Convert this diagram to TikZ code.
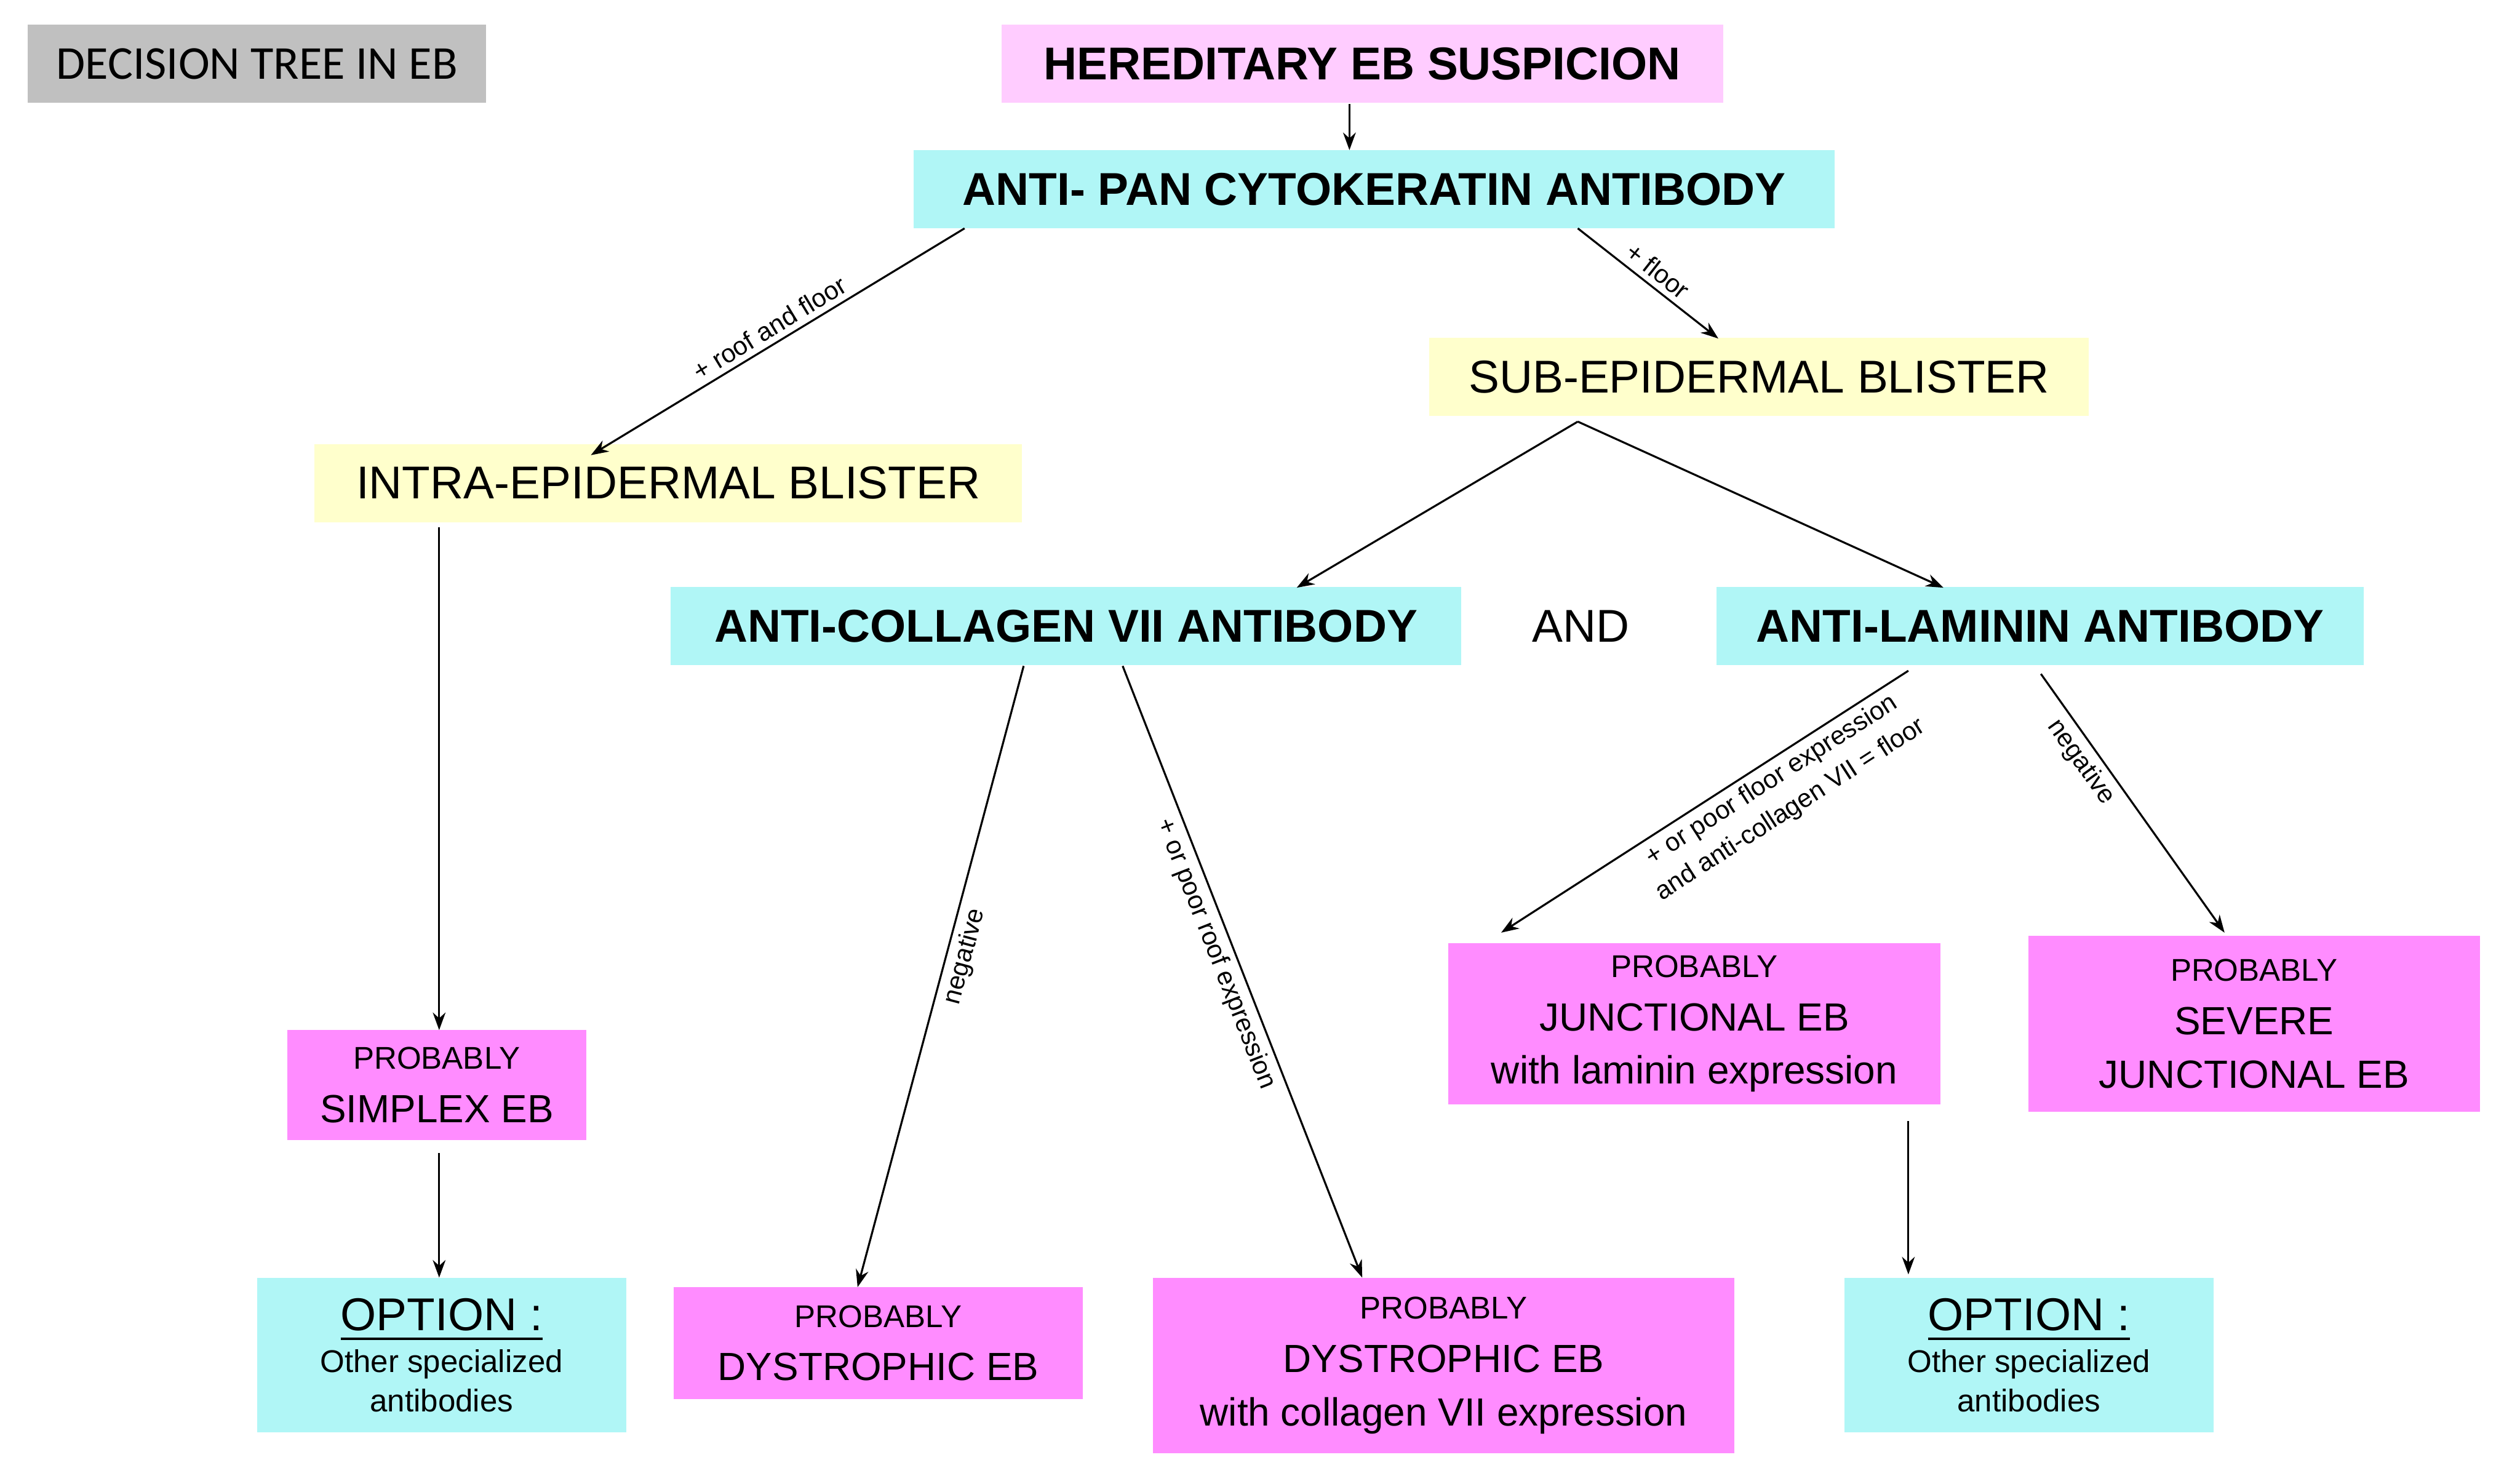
\documentclass[tikz,border=0pt]{standalone}
\usepackage{fontspec}
\setmainfont{Liberation Sans}
\newfontfamily\calib{Carlito}
\usetikzlibrary{arrows.meta}
\definecolor{pinklt}{HTML}{FFCCFF}
\definecolor{cyanlt}{HTML}{B0F6F6}
\definecolor{yellowlt}{HTML}{FFFFCC}
\definecolor{magent}{HTML}{FF8CFF}
\definecolor{greybx}{HTML}{C0C0C0}
\begin{document}
\begin{tikzpicture}
[
 >={Stealth[length=1.1mm,width=0.8mm]},
 align=center,
 inner sep=0pt,
 box/.style={rectangle,minimum width=#1},
 head/.style={box=#1,fill=cyanlt,minimum height=0.49cm,font=\fontsize{8.2}{9}\selectfont\bfseries},
 blister/.style={box=#1,fill=yellowlt,minimum height=0.49cm,font=\fontsize{8.2}{9}\selectfont},
 result/.style={box=#1,fill=magent,font=\fontsize{7}{9.5}\selectfont},
 option/.style={box=2.31cm,fill=cyanlt,minimum height=0.97cm,font=\fontsize{5.6}{7}\selectfont},
 lbl/.style={sloped,font=\fontsize{4.6}{6.2}\selectfont,inner sep=1pt},
 line/.style={->,line width=0.35pt}
]
\useasboundingbox (0,0) rectangle (15.68,9.29);
% boxes
\node (title) [box=2.87cm,fill=greybx,minimum height=0.49cm,font=\calib\fontsize{8.4}{9}\selectfont] at (1.61,8.89) {DECISION TREE IN EB};
\node (suspicion) [head=4.52cm,fill=pinklt] at (8.53,8.89) {HEREDITARY EB SUSPICION};
\node (pan) [head=5.77cm] at (8.605,8.105) {ANTI- PAN CYTOKERATIN ANTIBODY};
\node (sub) [blister=4.13cm] at (11.015,6.93) {SUB-EPIDERMAL BLISTER};
\node (intra) [blister=4.43cm] at (4.185,6.265) {INTRA-EPIDERMAL BLISTER};
\node (collagen) [head=4.95cm] at (6.675,5.37) {ANTI-COLLAGEN VII ANTIBODY};
\node (and) [font=\fontsize{8.2}{9}\selectfont] at (9.9,5.37) {AND};
\node (laminin) [head=4.05cm] at (12.775,5.37) {ANTI-LAMININ ANTIBODY};
\node (simplex) [result=1.87cm,minimum height=0.69cm] at (2.735,2.495) {{\fontsize{5.6}{7}\selectfont PROBABLY}\\SIMPLEX EB};
\node (option-l) [option] at (2.765,0.805) {{\fontsize{8.2}{9}\selectfont\underline{OPTION :}}\\[0.5pt]Other specialized\\antibodies};
\node (dystrophic) [result=2.56cm,minimum height=0.70cm] at (5.5,0.88) {{\fontsize{5.6}{7}\selectfont PROBABLY}\\DYSTROPHIC EB};
\node (dystrophic-vii) [result=3.64cm,minimum height=1.10cm] at (9.04,0.74) {{\fontsize{5.6}{7}\selectfont PROBABLY}\\DYSTROPHIC EB\\with collagen VII expression};
\node (junctional) [result=3.08cm,minimum height=1.01cm] at (10.61,2.88) {{\fontsize{5.6}{7}\selectfont PROBABLY}\\JUNCTIONAL EB\\with laminin expression};
\node (severe) [result=2.83cm,minimum height=1.10cm] at (14.115,2.88) {{\fontsize{5.6}{7}\selectfont PROBABLY}\\SEVERE\\JUNCTIONAL EB};
\node (option-r) [option] at (12.705,0.805) {{\fontsize{8.2}{9}\selectfont\underline{OPTION :}}\\[0.5pt]Other specialized\\antibodies};
% connector ends
\coordinate (pan-in) at (8.45,8.35);
\coordinate (pan-l) at (6.04,7.86);
\coordinate (pan-r) at (9.88,7.86);
\coordinate (intra-in) at (3.70,6.44);
\coordinate (sub-in) at (10.76,7.17);
\coordinate (sub-out) at (9.88,6.65);
\coordinate (collagen-in) at (8.12,5.61);
\coordinate (laminin-in) at (12.17,5.61);
\coordinate (intra-out) at (2.75,5.99);
\coordinate (simplex-in) at (2.75,2.84);
\coordinate (simplex-out) at (2.75,2.07);
\coordinate (option-l-in) at (2.75,1.29);
\coordinate (collagen-l) at (6.41,5.12);
\coordinate (collagen-r) at (7.03,5.12);
\coordinate (dystrophic-in) at (5.37,1.23);
\coordinate (dystrophic-vii-in) at (8.53,1.29);
\coordinate (laminin-l) at (11.95,5.09);
\coordinate (laminin-r) at (12.78,5.07);
\coordinate (junctional-in) at (9.40,3.45);
\coordinate (severe-in) at (13.93,3.45);
\coordinate (junctional-out) at (11.95,2.27);
\coordinate (option-r-in) at (11.95,1.31);
% arrows
\draw[line] (suspicion.south -| pan-in) -- (pan-in);
\draw[line] (pan-l) -- node [lbl,above] {+ roof and floor} (intra-in);
\draw[line] (pan-r) -- node [lbl,above] {+ floor} (sub-in);
\draw[line] (sub-out) -- (collagen-in);
\draw[line] (sub-out) -- (laminin-in);
\draw[line] (intra-out) -- (simplex-in);
\draw[line] (simplex-out) -- (option-l-in);
\draw[line] (collagen-l) -- node [lbl,below,pos=0.46] {negative} (dystrophic-in);
\draw[line] (collagen-r) -- node [lbl,below,pos=0.46] {+ or poor roof expression} (dystrophic-vii-in);
\draw[line] (laminin-l) -- node [lbl,below,pos=0.36] {+ or poor floor expression\\and anti-collagen VII = floor} (junctional-in);
\draw[line] (laminin-r) -- node [lbl,below,pos=0.3] {negative} (severe-in);
\draw[line] (junctional-out) -- (option-r-in);
\end{tikzpicture}
\end{document}
